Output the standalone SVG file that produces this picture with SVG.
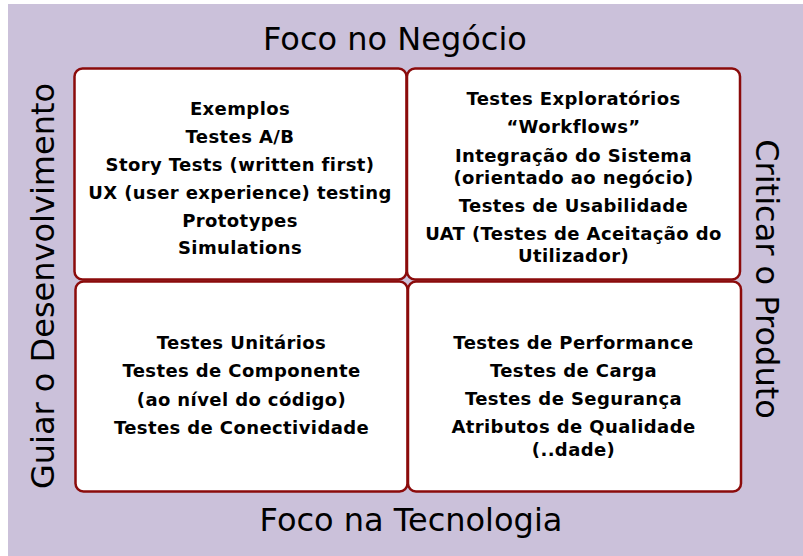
<svg xmlns="http://www.w3.org/2000/svg" width="803" height="556" viewBox="0 0 803 556">
<style>
.bg{fill:#CBC1DA}
.box{fill:#FFFFFF;stroke:#8B0B0B;stroke-width:2.5}
.t{font-family:"DejaVu Sans","Verdana",sans-serif;font-weight:bold;font-size:18px;letter-spacing:0.4px;fill:#000;text-anchor:middle}
.h{font-family:"DejaVu Sans","Verdana",sans-serif;font-size:32px;fill:#000;text-anchor:middle}
</style>
<rect class="bg" x="8" y="4" width="795" height="552"/>
<g id="title-top"><text class="h" x="395" y="50">Foco no Negócio</text></g>
<g id="title-bottom"><text class="h" x="411" y="531">Foco na Tecnologia</text></g>
<g id="title-left"><text class="h" transform="translate(54,286) rotate(-90)">Guiar o Desenvolvimento</text></g>
<g id="title-right"><text class="h" transform="translate(756,279) rotate(90)">Criticar o Produto</text></g>
<g id="q1">
<rect class="box" x="74.5" y="68.5" width="332" height="211" rx="8"/>
<text class="t" x="240" y="115">Exemplos</text>
<text class="t" x="240" y="142.7">Testes A/B</text>
<text class="t" x="240" y="171">Story Tests (written first)</text>
<text class="t" x="240" y="199">UX (user experience) testing</text>
<text class="t" x="240" y="226.7">Prototypes</text>
<text class="t" x="240" y="254.3">Simulations</text>
</g>
<g id="q2">
<rect class="box" x="407" y="68.5" width="333" height="211" rx="8"/>
<text class="t" x="573.5" y="105">Testes Exploratórios</text>
<text class="t" x="573.5" y="132.7">“Workflows”</text>
<text class="t" x="573.5" y="161.7">Integração do Sistema</text>
<text class="t" x="573.5" y="184.3">(orientado ao negócio)</text>
<text class="t" x="573.5" y="211.7">Testes de Usabilidade</text>
<text class="t" x="573.5" y="240">UAT (Testes de Aceitação do</text>
<text class="t" x="573.5" y="261.7">Utilizador)</text>
</g>
<g id="q3">
<rect class="box" x="75.5" y="281.5" width="332" height="210" rx="8"/>
<text class="t" x="241.5" y="349">Testes Unitários</text>
<text class="t" x="241.5" y="377.3">Testes de Componente</text>
<text class="t" x="241.5" y="405.7">(ao nível do código)</text>
<text class="t" x="241.5" y="434">Testes de Conectividade</text>
</g>
<g id="q4">
<rect class="box" x="408" y="281.5" width="333" height="210" rx="8"/>
<text class="t" x="573.5" y="349">Testes de Performance</text>
<text class="t" x="573.5" y="376.7">Testes de Carga</text>
<text class="t" x="573.5" y="405">Testes de Segurança</text>
<text class="t" x="573.5" y="433.3">Atributos de Qualidade</text>
<text class="t" x="573.5" y="455.7">(..dade)</text>
</g>
<g id="connectors"/>
</svg>
